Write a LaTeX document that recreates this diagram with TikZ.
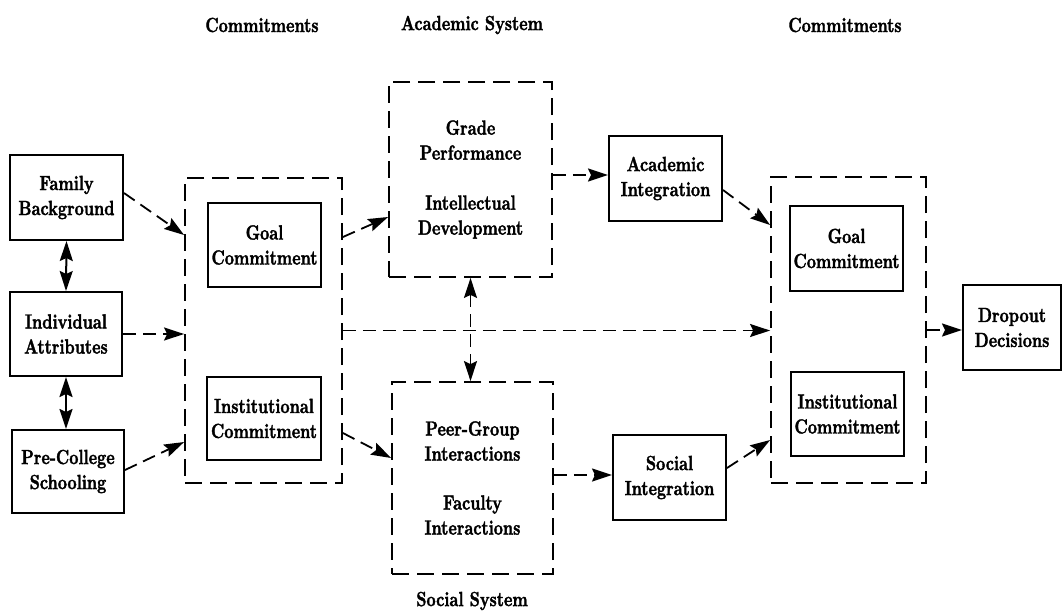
\documentclass[tikz,border=0pt]{standalone}
\usepackage{fontspec}
\newfontfamily\dfont{lmroman10-bold.otf}[FakeStretch=0.78,FakeBold=1.6]
\usetikzlibrary{arrows.meta,calc}
\begin{document}
\begin{tikzpicture}[x=1pt,y=-1pt,
  every node/.style={font=\dfont\fontsize{20.5}{25}\selectfont, align=center, inner sep=0pt},
  box/.style={draw, line width=2pt, minimum width=113pt, minimum height=85pt},
  cont/.style={draw, line width=1.8pt, dash pattern=on 17pt off 8pt},
  tip/.tip={Stealth[length=20pt,width=13pt,inset=3pt]},
  conn/.style={line width=1.8pt, dash pattern=on 13pt off 7pt, -tip},
  dconn/.style={line width=1.8pt, dash pattern=on 13pt off 7pt, tip-tip},
  dbl/.style={line width=2pt, tip-tip},
  lbl/.style={}]
\useasboundingbox (0,0) rectangle (1064,611);

% top and bottom labels
\node[lbl] (tl1) at (262,25) {Commitments};
\node[lbl] (tl2) at (472,25) {Academic System};
\node[lbl] (tl3) at (845,25) {Commitments};
\node[lbl] (bl1) at (472,601) {Social System};

% left boxes
\node[box] (fam) at (66.5,197.5) {Family\\Background};
\node[box, minimum width=112pt, minimum height=84pt] (ind) at (66,334) {Individual\\Attributes};
\node[box, minimum width=112pt, minimum height=83pt] (pre) at (68,471.5) {Pre-College\\Schooling};

% left container
\node[cont, minimum width=157pt, minimum height=305pt] (lc) at (263.5,330.5) {};
\node[box, minimum height=84pt] (gc1) at (264.5,245) {Goal\\Commitment};
\node[box, minimum width=114pt, minimum height=83pt] (ic1) at (264,418.5) {Institutional\\Commitment};

% academic and social systems
\node[cont, minimum width=163pt, minimum height=195pt] (acad) at (470.5,179.5)
  {Grade\\Performance\\[25pt]Intellectual\\Development};
\node[cont, minimum width=161pt, minimum height=192pt] (soc) at (472.5,478)
  {Peer-Group\\Interactions\\[24pt]Faculty\\Interactions};

\node[box] (ai) at (665.5,178.5) {Academic\\Integration};
\node[box] (si) at (669.5,477.5) {Social\\Integration};

% right container
\node[cont, minimum width=155pt, minimum height=306pt] (rc) at (848.5,330) {};
\node[box] (gc2) at (846.5,248.5) {Goal\\Commitment};
\node[box, minimum height=84pt] (ic2) at (847.5,414) {Institutional\\Commitment};

\node[box, minimum width=98pt] (drop) at (1012,327.5) {Dropout\\Decisions};

% connectors
\draw[dbl] (fam.south) -- (ind.north);
\draw[dbl] (ind.south) -- (ind.south |- pre.north);

\draw[conn] ([yshift=4.5pt]fam.east) -- ([yshift=95.5pt]lc.west);
\draw[conn] (ind.east) -- (ind.east -| lc.west);
\draw[conn] ([yshift=1.5pt]pre.east) -- ([yshift=-111.5pt]lc.west);

\draw[conn] ([yshift=93.5pt]lc.east) -- ([yshift=-37.5pt]acad.west);
\draw[conn] ([yshift=-102.5pt]lc.east) -- ([yshift=20pt]soc.west);

\draw[conn] ([yshift=3.5pt]ai.west -| acad.east) -- ([yshift=3.5pt]ai.west);
\draw[conn] ([yshift=2.5pt]si.west -| soc.east) -- ([yshift=2.5pt]si.west);

\draw[dconn] (acad.south) -- (acad.south |- soc.north);

\draw[conn] (lc.east) -- (lc.east -| rc.west);

\draw[conn] ([yshift=-11.5pt]ai.east) -- ([yshift=105pt]rc.west);
\draw[conn] ([yshift=9.5pt]si.east) -- ([yshift=-110pt]rc.west);

\draw[conn] (rc.east) -- (rc.east -| drop.west);
\end{tikzpicture}
\end{document}
